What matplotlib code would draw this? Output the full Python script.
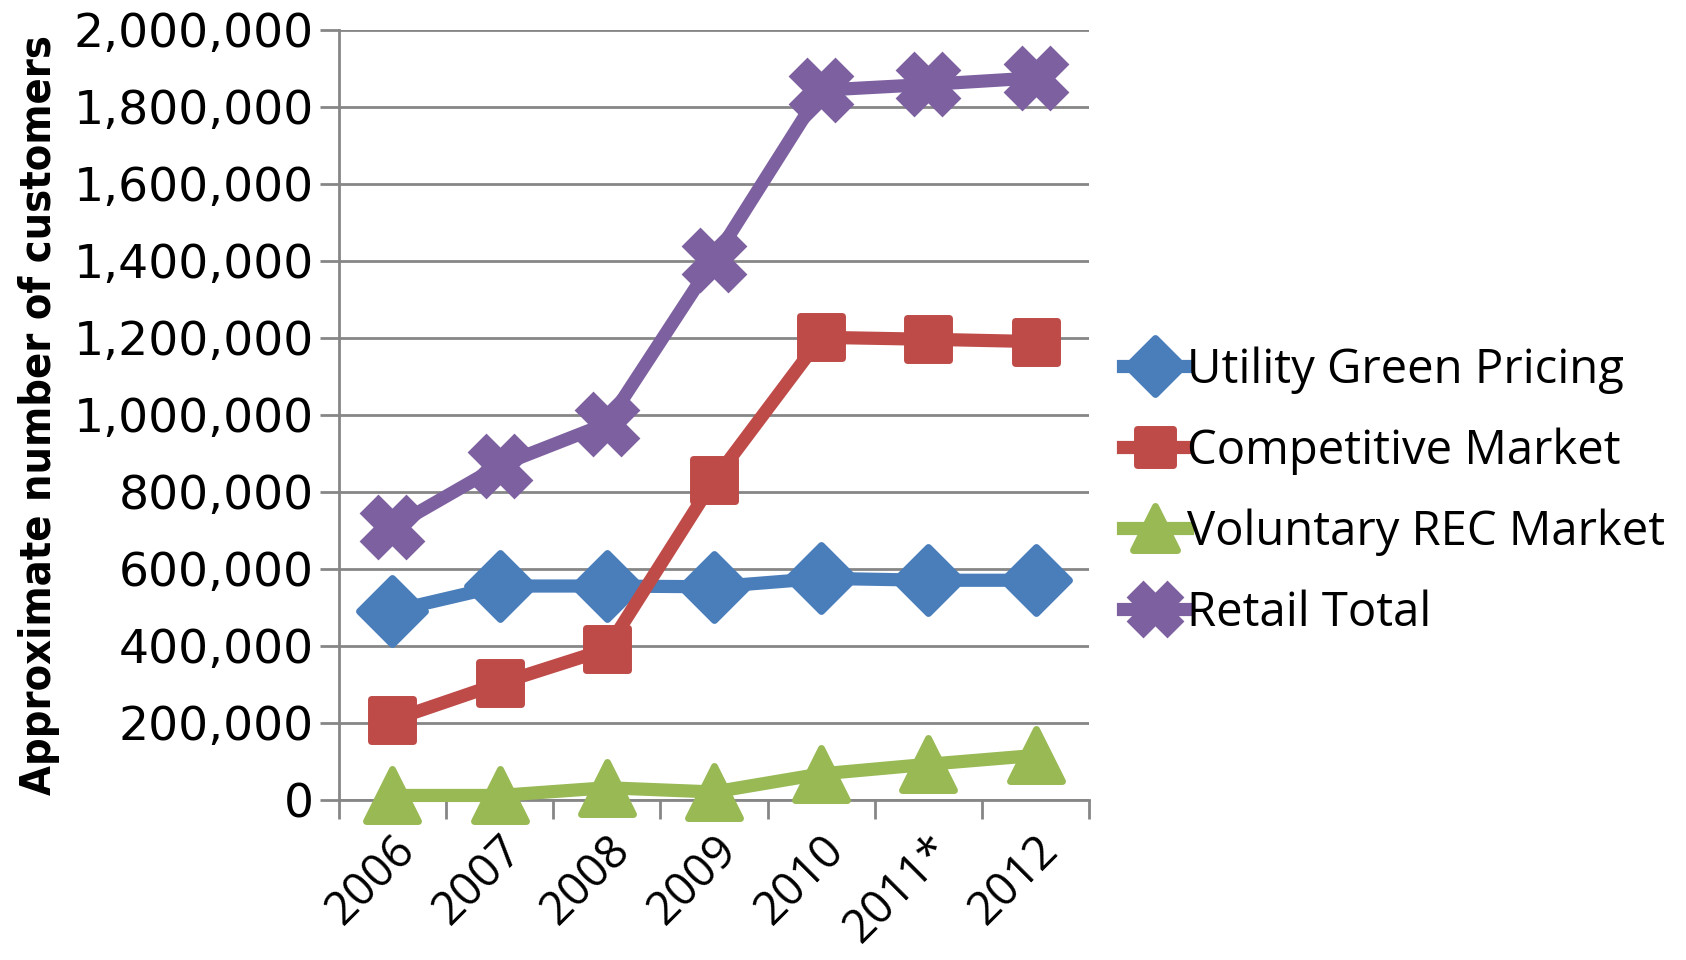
#!/usr/bin/python
"""Green power customers by market segment, 2006-2012."""
import matplotlib
matplotlib.use('Agg')
from matplotlib import pyplot as plt
from matplotlib.markers import MarkerStyle
from matplotlib.ticker import FuncFormatter, FixedLocator

years = ['2006', '2007', '2008', '2009', '2010', '2011*', '2012']

utility_green_pricing = [490000, 555000, 555000, 553000, 575000, 570000, 570000]
competitive_market = [207000, 302000, 391000, 830000, 1201000, 1196000, 1190000]
voluntary_rec_market = [11000, 11000, 31000, 20000, 67000, 92000, 115000]
retail_total = [708000, 868000, 977000, 1403000, 1843000, 1858000, 1875000]

series_labels = ['Utility Green Pricing', 'Competitive Market',
                 'Voluntary REC Market', 'Retail Total']

y_ticks = list(range(0, 2000001, 200000))

GRID = '#868686'


def main():
    fig = plt.figure(figsize=(16.86, 9.60), dpi=100)
    axes = fig.add_axes([0.201, 0.167, 0.445, 0.802])

    x = list(range(len(years)))
    styles = [
        (utility_green_pricing, '#4A7EBB', MarkerStyle('D', joinstyle='round'), 34),
        (competitive_market, '#BE4B48', MarkerStyle('s', joinstyle='round'), 30),
        (voluntary_rec_market, '#98B954', MarkerStyle('^', joinstyle='round'), 38),
        (retail_total, '#7D60A0', MarkerStyle('X', joinstyle='miter'), 40),
    ]
    for (values, color, marker, size), label in zip(styles, series_labels):
        axes.plot(x, values, color=color, linewidth=9.5, marker=marker,
                  markersize=size, markeredgewidth=5, markeredgecolor=color,
                  markerfacecolor=color, label=label, solid_joinstyle='round',
                  zorder=3, clip_on=False)

    axes.set_xlim(-0.5, len(years) - 0.5)
    axes.set_ylim(0, 2000000)

    # Y axis: gridlines and comma-formatted labels.
    axes.set_yticks(y_ticks)
    axes.yaxis.set_major_formatter(FuncFormatter(lambda v, p: '{:,.0f}'.format(v)))
    axes.grid(axis='y', color=GRID, linewidth=2, zorder=0)
    axes.tick_params(axis='y', length=14, width=2, color=GRID, labelsize=34,
                     pad=4)
    for lab in axes.get_yticklabels():
        lab.set_family('DejaVu Sans')

    # X axis: categories between tick marks.
    axes.set_xticks(x)
    axes.set_xticklabels(years, rotation=45, ha='right', rotation_mode='anchor',
                         fontsize=33, family='Open Sans')
    axes.tick_params(axis='x', length=0, pad=20)
    axes.xaxis.set_minor_locator(FixedLocator([i - 0.5 for i in range(len(years) + 1)]))
    axes.tick_params(axis='x', which='minor', length=14, width=2, color=GRID)

    for side in ['top', 'right']:
        axes.spines[side].set_visible(False)
    for side in ['left', 'bottom']:
        axes.spines[side].set_color(GRID)
        axes.spines[side].set_linewidth(2)

    axes.set_ylabel('Approximate number of customers', fontsize=31,
                    fontweight='bold', family='DejaVu Sans', fontstretch='condensed',
                    labelpad=10)

    fig.legend(loc='center left', bbox_to_anchor=(0.641, 0.488), frameon=False,
               prop={'family': 'Open Sans', 'size': 34},
               handlelength=1.35, handletextpad=0.0, labelspacing=0.71,
               markerscale=0.85)

    plt.savefig('out.png', dpi=100)


if __name__ == '__main__':
    main()
